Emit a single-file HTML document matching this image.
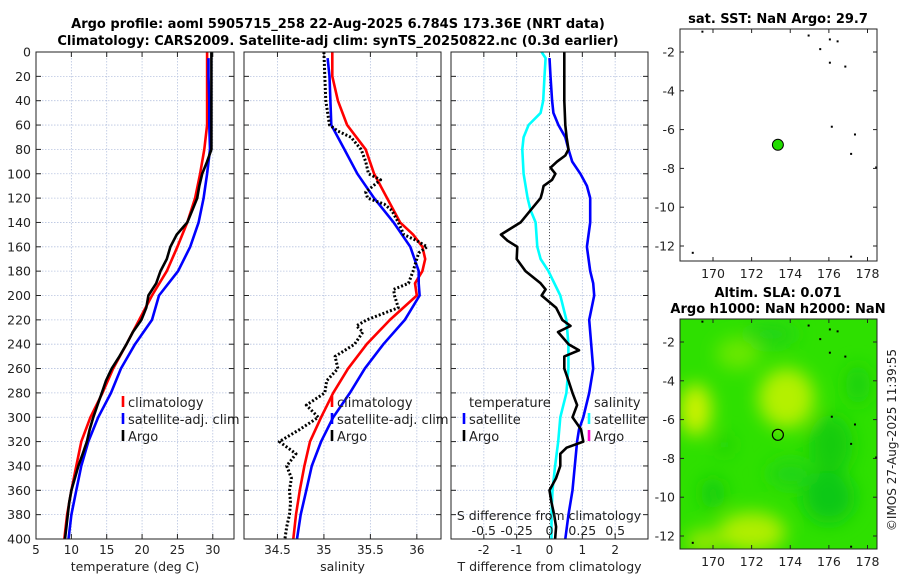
<!DOCTYPE html>
<html><head><meta charset="utf-8">
<style>
html,body{margin:0;padding:0;background:#fff;}
svg{display:block;font-family:"DejaVu Sans","Liberation Sans",sans-serif;}
</style></head>
<body>
<svg id="fig" width="900" height="580" viewBox="0 0 900 580" xmlns="http://www.w3.org/2000/svg">
<defs>
<filter id="blur" x="-20%" y="-20%" width="140%" height="140%"><feGaussianBlur stdDeviation="9"/></filter>
<clipPath id="mapclip"><rect x="680" y="319" width="197" height="230"/></clipPath>
</defs>
<g id="titles" font-weight="bold" font-size="13" text-anchor="middle">
<text x="338" y="28">Argo profile: aoml 5905715_258 22-Aug-2025 6.784S 173.36E (NRT data)</text>
<text x="338" y="45">Climatology: CARS2009. Satellite-adj clim: synTS_20250822.nc (0.3d earlier)</text>
<text x="778" y="23">sat. SST: NaN Argo: 29.7</text>
<text x="778" y="297">Altim. SLA: 0.071</text>
<text x="778" y="313">Argo h1000: NaN h2000: NaN</text>
</g>
<text x="0" y="0" font-size="12" fill="#222" transform="translate(896,440) rotate(-90)" text-anchor="middle">©IMOS 27-Aug-2025 11:39:55</text>
<g id="root"></g>
</svg>
<script>
// ---- data ----
const tempClimDepth=[0,20,40,60,80,100,120,140,160,180,200,220,240,260,280,300,320,340,360,380,400];
const tempClim=[29.2,29.2,29.2,29.2,28.8,28.2,27.5,26.4,25.0,23.5,21.4,19.6,17.8,15.9,14.4,12.7,11.4,10.7,10.0,9.4,9.0];
const tempSatDepth=[5,20,40,60,80,100,120,140,160,180,200,220,240,260,280,300,320,340,360,380,400];
const tempSat=[29.4,29.4,29.5,29.5,29.6,29.2,28.7,28.0,26.8,25.1,22.4,21.4,19.0,17.0,15.6,13.8,12.4,11.4,10.7,10.0,9.6];
const tempArgoDepth=[0,40,80,90,100,110,120,130,140,150,160,170,180,190,200,210,220,230,240,250,260,270,280,290,300,310,320,330,340,350,360,370,380,390,400];
const tempArgo=[29.8,29.8,29.8,29.2,28.5,28.1,27.8,27.1,26.4,24.9,24.0,23.5,22.6,22.0,20.9,20.6,19.9,18.7,17.8,16.8,15.7,14.9,14.3,13.7,13.1,12.6,12.2,11.6,11.0,10.5,10.0,9.7,9.5,9.3,9.1];

const salClimDepth=[0,20,40,60,80,100,120,140,150,160,170,180,190,200,220,240,260,280,300,320,340,360,380,400];
const salClim=[35.09,35.09,35.15,35.25,35.45,35.54,35.68,35.82,35.96,36.06,36.09,36.06,35.98,36.0,35.71,35.46,35.26,35.10,34.97,34.85,34.79,34.74,34.70,34.67];
const salSatDepth=[5,20,40,60,70,80,100,120,140,160,180,190,200,220,240,260,280,300,320,340,360,380,400];
const salSat=[35.04,35.06,35.07,35.08,35.15,35.22,35.36,35.54,35.75,35.93,36.02,36.02,36.03,35.87,35.64,35.44,35.28,35.10,34.97,34.87,34.81,34.75,34.71];
const salArgoDepth=[0,20,40,60,65,70,80,90,100,105,115,120,125,130,140,150,155,160,165,170,180,190,195,200,210,220,225,230,240,250,260,270,280,290,300,310,320,330,340,350,360,370,380,390,400];
const salArgo=[35.0,35.01,35.02,35.06,35.15,35.29,35.40,35.45,35.48,35.61,35.45,35.47,35.65,35.73,35.80,35.86,36.0,36.11,36.02,36.0,35.96,35.91,35.75,35.76,35.80,35.46,35.35,35.42,35.33,35.12,35.15,35.03,35.01,34.81,34.94,34.74,34.52,34.70,34.60,34.65,34.63,34.64,34.63,34.60,34.58];

const tdiffSatDepth=[5,20,40,50,60,70,80,90,100,110,120,140,160,180,190,200,220,240,260,280,300,310,320,340,360,380,400];
const tdiffSat=[0,0.03,0.08,0.12,0.27,0.48,0.58,0.69,0.94,1.14,1.24,1.24,1.14,1.24,1.33,1.36,1.21,1.27,1.33,1.21,1.03,0.9,0.84,0.77,0.70,0.58,0.48];
const tdiffArgoDepth=[0,40,60,70,80,85,90,95,100,105,110,115,120,130,140,150,155,160,170,180,190,195,200,210,220,225,230,240,245,250,260,270,280,290,300,310,320,325,330,340,350,360,370,380,390,400];
const tdiffArgo=[0.45,0.45,0.48,0.52,0.58,0.48,0.23,0.03,0.18,0.08,-0.18,-0.22,-0.27,-0.58,-0.88,-1.48,-1.28,-0.98,-1.0,-0.73,-0.27,-0.12,-0.24,0.2,0.39,0.64,0.26,0.58,0.9,0.45,0.45,0.58,0.7,0.84,0.7,0.96,1.03,0.52,0.33,0.33,0.2,0,0.06,0.14,0.2,0.17];
const sdiffSatDepth=[0,5,20,40,50,60,70,80,100,120,130,140,160,170,180,200,220,240,260,280,300,320,340,360,380,400];
const sdiffSat=[-0.06,-0.03,-0.038,-0.048,-0.068,-0.159,-0.197,-0.207,-0.197,-0.167,-0.144,-0.106,-0.093,-0.068,-0.008,0.082,0.129,0.144,0.144,0.129,0.082,0.066,0.043,0.023,0.015,0.015];

const depthTicks=[0,20,40,60,80,100,120,140,160,180,200,220,240,260,280,300,320,340,360,380,400];
const tempTicks=[5,10,15,20,25,30];
const salTicks=[34.5,35,35.5,36];
const tdiffTicks=[-2,-1,0,1,2];
const sdiffTicks=[-0.5,-0.25,0,0.25,0.5];
const sdiffTickLabels=["-0.5","-0.25","0","0.25","0.5"];
const latTicks=[-2,-4,-6,-8,-10,-12];
const lonTicks=[170,172,174,176,178];
const argoLon=[173.36], argoLat=[-6.784];

// ---- helpers ----
const NS="http://www.w3.org/2000/svg";
const root=document.getElementById('root');
function mk(tag,attrs,parent,text){const e=document.createElementNS(NS,tag);for(const k in attrs)e.setAttribute(k,attrs[k]);if(text!==undefined)e.textContent=text;(parent||root).appendChild(e);return e;}
const TOP=52,BOT=539;
const yD=d=>TOP+(BOT-TOP)*d/400;
function lin(d0,d1,r0,r1){return v=>r0+(v-d0)*(r1-r0)/(d1-d0);}

const panels=[
 {name:'temperature-panel',x0:36,x1:234,dom:[5,33],ticks:tempTicks,labels:tempTicks.map(String),title:'temperature (deg C)'},
 {name:'salinity-panel',x0:244,x1:441,dom:[34.14,36.26],ticks:salTicks,labels:salTicks.map(String),title:'salinity'},
 {name:'difference-panel',x0:451,x1:648,dom:[-3,3],ticks:tdiffTicks,labels:tdiffTicks.map(String),title:'T difference from climatology'}
];
panels.forEach((p,i)=>{
 const g=mk('g',{});
 
 
 p.xs=lin(p.dom[0],p.dom[1],p.x0,p.x1);
 p.g=g;
 depthTicks.forEach(d=>{
  const l=mk('line',{x1:p.x0,x2:p.x1,y1:yD(d),y2:yD(d),stroke:'#b8c4e0','stroke-width':0.8,'stroke-dasharray':'1.5,1.5'},g);
  
  
  mk('line',{x1:p.x0,x2:p.x0+5,y1:yD(d),y2:yD(d),stroke:'#222'},g);
  mk('line',{x1:p.x1-5,x2:p.x1,y1:yD(d),y2:yD(d),stroke:'#222'},g);
 });
 p.ticks.forEach((t,j)=>{
  const x=p.xs(t);
  const l=mk('line',{x1:x,x2:x,y1:TOP,y2:BOT,stroke:'#b8c4e0','stroke-width':0.8,'stroke-dasharray':'1.5,1.5'},g);
  
  
  mk('line',{x1:x,x2:x,y1:BOT,y2:BOT-5,stroke:'#222'},g);
  mk('line',{x1:x,x2:x,y1:TOP,y2:TOP+5,stroke:'#222'},g);
  const tx=mk('text',{x:x,y:554,'font-size':12,'text-anchor':'middle',fill:'#222'},g,p.labels[j]);
  
  
 });
 const at=mk('text',{x:(p.x0+p.x1)/2,y:571,'font-size':12.5,'text-anchor':'middle',fill:'#222'},g,p.title);
 
 
 if(i===0){
  depthTicks.forEach(d=>{
   const tx=mk('text',{x:31,y:yD(d)+4.5,'font-size':12.5,'text-anchor':'end',fill:'#222'},g,String(d));
   
   
  });
 }
});
function line(p,depths,vals,color,name,xs,dash,w){
 const f=(typeof xs==='function')?xs:p.xs;
 const pts=depths.map((d,i)=>f(vals[i]).toFixed(1)+','+yD(d).toFixed(1)).join(' ');
 const e=mk('polyline',{points:pts,fill:'none',stroke:color,'stroke-width':w||2.6,'stroke-linejoin':'round'},p.g);
 if(dash)e.setAttribute('stroke-dasharray',dash);
 
 
 return e;
}
const P=panels;
// zero line in diff panel
const z=mk('line',{x1:P[2].xs(0),x2:P[2].xs(0),y1:TOP,y2:BOT,stroke:'#555','stroke-width':1,'stroke-dasharray':'1,2'},P[2].g);


line(P[0],tempClimDepth,tempClim,'#ff0000','temp-climatology-line');
line(P[0],tempSatDepth,tempSat,'#0000ff','temp-satellite-line');
line(P[0],tempArgoDepth,tempArgo,'#000','temp-argo-line');
line(P[1],salClimDepth,salClim,'#ff0000','sal-climatology-line');
line(P[1],salSatDepth,salSat,'#0000ff','sal-satellite-line');
line(P[1],salArgoDepth,salArgo,'#000','sal-argo-line',null,'2,2',3);
const sx=lin(-0.75,0.75,P[2].x0,P[2].x1);
line(P[2],sdiffSatDepth,sdiffSat,'#00ffff','sdiff-satellite-line',sx);
line(P[2],tdiffSatDepth,tdiffSat,'#0000ff','tdiff-satellite-line');
line(P[2],tdiffArgoDepth,tdiffArgo,'#000','tdiff-argo-line');
// frames
P.forEach(p=>{const r=mk('rect',{x:p.x0,y:TOP,width:p.x1-p.x0,height:BOT-TOP,fill:'none',stroke:'#222','stroke-width':1},p.g);});
// s diff axis labels
const sg=mk('g',{});


mk('text',{x:549,y:520,'font-size':12.5,'text-anchor':'middle',fill:'#222'},sg,'S difference from climatology');
sdiffTicks.forEach((t,j)=>{const e=mk('text',{x:sx(t),y:535,'font-size':12.5,'text-anchor':'middle',fill:'#222'},sg,sdiffTickLabels[j]);});
// legends
function legend(x,y,items,name){
 const g=mk('g',{});
 
 
 items.forEach((it,i)=>{
  const yy=y+i*17;
  if(it.c){mk('line',{x1:x,x2:x,y1:yy-11,y2:yy,stroke:it.c,'stroke-width':2.6},g);}
  const t=mk('text',{x:x+5,y:yy,'font-size':13,fill:'#222'},g,it.t);
  
  
 });
}
legend(123,407,[{c:'#ff0000',t:'climatology'},{c:'#0000ff',t:'satellite-adj. clim'},{c:'#000',t:'Argo'}],'temp-legend');
legend(332,407,[{c:'#ff0000',t:'climatology'},{c:'#0000ff',t:'satellite-adj. clim'},{c:'#000',t:'Argo'}],'sal-legend');
legend(464,407,[{t:'temperature'},{c:'#0000ff',t:'satellite'},{c:'#000',t:'Argo'}],'tdiff-legend');
legend(589,407,[{t:'salinity'},{c:'#00ffff',t:'satellite'},{c:'#ff00cc',t:'Argo'}],'sdiff-legend');

// ---- maps ----
function map(top,bot,latAt2,latAt12,name,fillFn){
 const g=mk('g',{});
 
 
 const x0=680,x1=877;
 const lx=lin(170,178,713,867.5), ly=lin(-2,-12,latAt2,latAt12);
 if(fillFn)fillFn(g,lx,ly);
 latTicks.forEach(t=>{const y=ly(t);mk('line',{x1:x0,x2:x0+4,y1:y,y2:y,stroke:'#222'},g);mk('line',{x1:x1-4,x2:x1,y1:y,y2:y,stroke:'#222'},g);
  const e=mk('text',{x:675,y:y+4.5,'font-size':12.5,'text-anchor':'end',fill:'#222'},g,String(t));});
 lonTicks.forEach(t=>{const x=lx(t);mk('line',{x1:x,x2:x,y1:bot,y2:bot-4,stroke:'#222'},g);mk('line',{x1:x,x2:x,y1:top,y2:top+4,stroke:'#222'},g);
  const e=mk('text',{x:x,y:bot+17,'font-size':12.5,'text-anchor':'middle',fill:'#222'},g,String(t));});
 [[174.9,-1.1],[175.5,-1.8],[176,-1.3],[176.4,-1.4],[176,-2.5],[176.8,-2.7],[176.1,-5.8],[177.3,-6.2],[177.1,-7.2],[178.4,-7.9],[169.4,-0.9],[168.9,-12.3],[177.1,-12.5]].forEach(s=>mk('rect',{x:lx(s[0]),y:ly(s[1]),width:2,height:2,fill:'#000'},g));
 mk('rect',{x:x0,y:top,width:x1-x0,height:bot-top,fill:'none',stroke:'#222'},g);
 return {g,lx,ly};
}
const m1=map(29,261,52,246,'sst-map',null);
const c1=mk('circle',{cx:m1.lx(argoLon[0]),cy:m1.ly(argoLat[0]),r:5.5,fill:'#22dd00',stroke:'#000','stroke-width':1},m1.g);


const m2=map(319,549,342,536,'sla-map',(g,lx,ly)=>{
 const cg=mk('g',{'clip-path':'url(#mapclip)'},g);
 mk('rect',{x:680,y:319,width:197,height:230,fill:'#2ee000'},cg);
 const bg=mk('g',{filter:'url(#blur)'},cg);
 [[173.8,-4.9,28,30,'#b4f000'],[169.1,-5.5,16,26,'#ccf200'],[172,-11.8,34,20,'#b0ee00'],[169.5,-12.3,18,12,'#9ae800'],[171.3,-2.6,22,16,'#6ae800'],
  [176.1,-7.3,22,30,'#14cc10'],[176,-10,26,26,'#10c818'],[170,-9.8,12,16,'#18cc10'],[170.6,-7.3,8,10,'#20d010'],[173,-1.6,26,12,'#22d414'],[174,-8.8,22,14,'#22d414'],[177.5,-4.2,12,20,'#1cd010']]
 .forEach(b=>mk('ellipse',{cx:lx(b[0]),cy:ly(b[1]),rx:b[2],ry:b[3],fill:b[4]},bg));
});
const c2=mk('circle',{cx:m2.lx(argoLon[0]),cy:m2.ly(argoLat[0]),r:5.5,fill:'none',stroke:'#000','stroke-width':1.2},m2.g);


</script>
</body></html>
